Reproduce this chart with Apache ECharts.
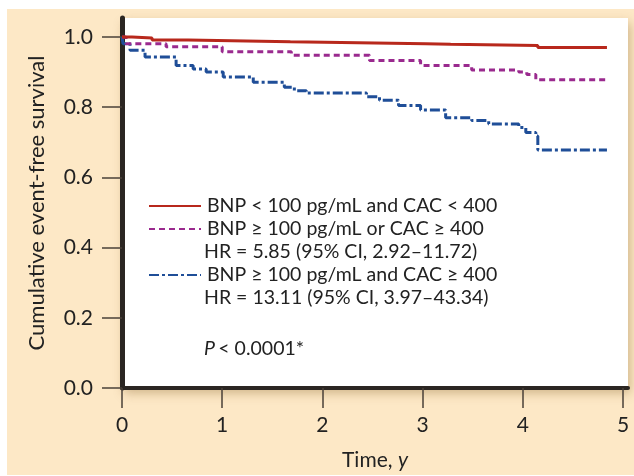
<!DOCTYPE html>
<html>
<head>
<meta charset="utf-8">
<script src="https://cdn.jsdelivr.net/npm/echarts@6/dist/echarts.min.js"></script>
<style>
html,body{margin:0;padding:0;background:#fff;}
#bg{position:absolute;left:7px;top:9px;width:627px;height:466px;background:#fde8c6;}
#chart{position:absolute;left:0;top:0;width:634px;height:476px;}
</style>
</head>
<body>
<div id="bg"></div>
<div id="chart"></div>
<script>
// Kaplan-Meier style survival steps: [time (y), survival]
const seriesNames = [
  'BNP < 100 pg/mL and CAC < 400',
  'BNP ≥ 100 pg/mL or CAC ≥ 400',
  'BNP ≥ 100 pg/mL and CAC ≥ 400'
];
const lowRisk = [
  [0,1.0],[0.1,0.997],[0.3,0.991],[0.66,0.986],[1.68,0.981],[3.03,0.979],[3.28,0.976],[4.15,0.970],[4.84,0.970]
];
const midRisk = [
  [0,1.0],[0.04,0.981],[0.44,0.972],[1.0,0.958],[1.69,0.948],[2.47,0.933],[2.98,0.919],[3.49,0.906],[3.96,0.900],[4.04,0.893],[4.13,0.878],[4.84,0.878]
];
const highRisk = [
  [0,1.0],[0.01,0.981],[0.08,0.962],[0.23,0.943],[0.54,0.919],[0.71,0.909],[0.84,0.900],[1.01,0.886],[1.31,0.871],[1.62,0.857],[1.72,0.847],[1.84,0.840],[2.44,0.830],[2.57,0.820],[2.76,0.805],[2.98,0.792],[3.23,0.770],[3.49,0.762],[3.66,0.752],[3.96,0.742],[4.03,0.728],[4.13,0.718],[4.15,0.678],[4.84,0.678]
];
const xTicks = [0,1,2,3,4,5];
const yTicks = [0,0.2,0.4,0.6,0.8,1.0];
const hrLines = ['HR = 5.85 (95% CI, 2.92–11.72)', 'HR = 13.11 (95% CI, 3.97–43.34)'];
const pText = '< 0.0001*';

const FONT = 'Lato';
const LFS = 19.5;
const chart = echarts.init(document.getElementById('chart'), null, {renderer:'canvas'});
const colors = ['#b8281c', '#9a2a8e', '#1f4e98'];
const datasets = [lowRisk, midRisk, highRisk];
const lineTypes = ['solid', [6,4], [10,3,3,3]];
const widths = [3, 3, 3];

function legendFor(i, top){
  return {
    show: true, left: 148, top: top, padding: 0,
    data: [seriesNames[i]], itemWidth: 52, itemHeight: 12, itemGap: 0,
    itemStyle: {opacity: 0},
    textStyle: {fontFamily: FONT, fontSize: LFS, color: '#222', lineHeight: 22, padding: [0,0,0,1]}
  };
}

const option = {
  animation: false,
  textStyle: {fontFamily: FONT},
  grid: {
    left: 122, right: 6, top: 18, bottom: 86,
    show: true, backgroundColor: '#ffffff', borderWidth: 0,
    shadowBlur: 10, shadowColor: 'rgba(120,80,20,0.35)', shadowOffsetX: 2, shadowOffsetY: 5
  },
  legend: [legendFor(0, 195), legendFor(1, 218), legendFor(2, 264)],
  xAxis: {
    type: 'value', min: 0, max: 5.05,
    name: '{n|Time, }{i|y}', nameLocation: 'middle', nameGap: 62,
    nameTextStyle: {rich: {n: {fontFamily: FONT, fontSize: 21, color: '#222'}, i: {fontFamily: FONT, fontSize: 21, fontStyle: 'italic', color: '#222'}}},
    axisLine: {show: true, onZero: false, lineStyle: {color: '#2b2622', width: 4}},
    axisTick: {show: true, inside: false, length: 20, customValues: xTicks, lineStyle: {color: '#4a4038', width: 1.5}},
    axisLabel: {customValues: xTicks, margin: 27, fontFamily: FONT, fontSize: 21, color: '#222'},
    splitLine: {show: false}
  },
  yAxis: {
    type: 'value', min: 0, max: 1.054,
    name: 'Cumulative event-free survival', nameLocation: 'middle', nameGap: 74, nameRotate: 90,
    nameTextStyle: {fontFamily: FONT, fontSize: 22, color: '#222'},
    axisLine: {show: true, onZero: false, lineStyle: {color: '#2b2622', width: 5}},
    axisTick: {show: true, inside: false, length: 20, customValues: yTicks, lineStyle: {color: '#4a4038', width: 1.5}},
    axisLabel: {customValues: yTicks, margin: 29, fontFamily: FONT, fontSize: 21, color: '#222', formatter: v => v.toFixed(1)},
    splitLine: {show: false}
  },
  series: datasets.map((d, i) => ({
    name: seriesNames[i], type: 'line', step: 'end', data: d, symbol: 'none', z: 3 - i + 2,
    lineStyle: {color: colors[i], width: widths[i], type: lineTypes[i]},
    itemStyle: {color: colors[i]}
  })),
  graphic: [
    {type: 'text', left: 204, top: 242, style: {text: hrLines[0], font: LFS + 'px ' + FONT, fill: '#222'}},
    {type: 'text', left: 204, top: 288, style: {text: hrLines[1], font: LFS + 'px ' + FONT, fill: '#222'}},
    {type: 'text', left: 204, top: 339, style: {
      text: '{i|P} {n|' + pText + '}',
      rich: {i: {fontFamily: FONT, fontSize: LFS, fontStyle: 'italic', fill: '#222'}, n: {fontFamily: FONT, fontSize: LFS, fill: '#222'}}
    }}
  ]
};
chart.setOption(option);
</script>
</body>
</html>
